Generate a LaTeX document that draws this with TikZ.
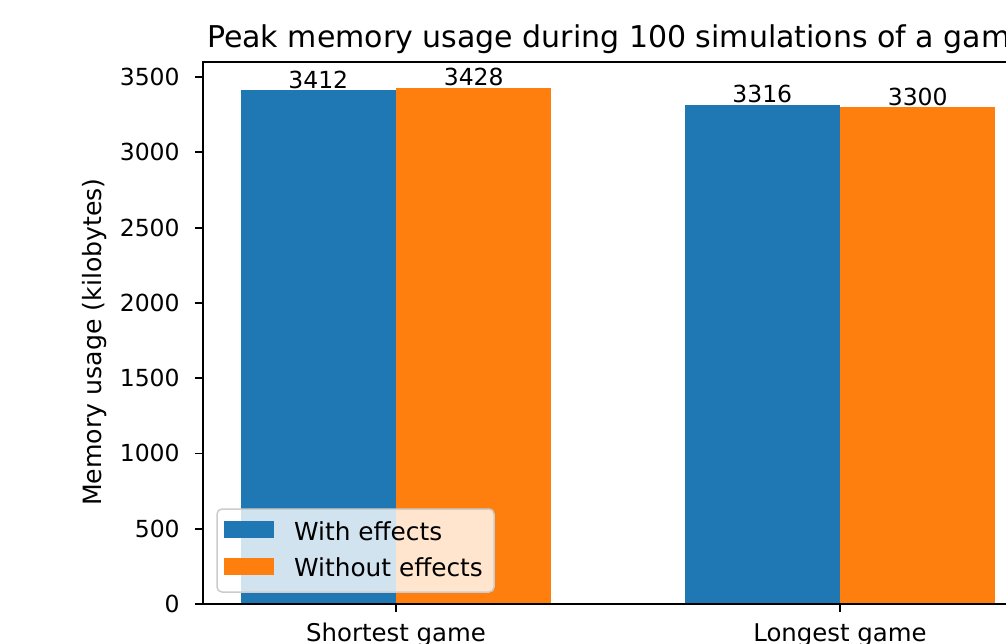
\documentclass[tikz,border=0pt]{standalone}
\usepackage{fontspec}
\setmainfont{DejaVu Sans}
\definecolor{barblue}{HTML}{1F77B4}
\definecolor{barorange}{HTML}{FF7F0E}
\definecolor{legedge}{HTML}{CCCCCC}
\tikzset{
  axisline/.style={line width=1.8pt, black, line cap=rect},
  tickline/.style={line width=1.8pt, black},
  ticklabel/.style={inner sep=0pt, font=\fontsize{23.5}{28}\selectfont},
  wordlabel/.style={inner sep=0pt, font=\fontsize{24.4}{29}\selectfont},
  leglabel/.style={inner sep=0pt, font=\fontsize{24.8}{29}\selectfont, anchor=base west},
  valuelabel/.style={inner sep=0pt, font=\fontsize{23.5}{28}\selectfont, anchor=base},
  titlelabel/.style={inner sep=0pt, font=\fontsize{30}{35}\selectfont, anchor=base},
}
\begin{document}
\begin{tikzpicture}[x=1pt,y=1pt]
\useasboundingbox (0,0) rectangle (1006,643);
\clip (0,0) rectangle (1006,643);
\fill[white] (0,0) rectangle (1006,643);

% data coordinates: x = group index, y = kilobytes
\begin{scope}[xshift=396pt, yshift=39pt, x=444pt, y=0.15056pt]
  % bars
  \fill[barblue]   (-0.35,0) rectangle (0,3412);
  \fill[barorange] (0,0)     rectangle (0.35,3428);
  \fill[barblue]   (0.65,0)  rectangle (1,3316);
  \fill[barorange] (1,0)     rectangle (1.35,3300);

  % value labels
  \node[valuelabel] (v1) at ([yshift=2pt]-0.175,3412) {3412};
  \node[valuelabel] (v2) at ([yshift=2pt]0.175,3428) {3428};
  \node[valuelabel] (v3) at ([yshift=2pt]0.825,3316) {3316};
  \node[valuelabel] (v4) at ([yshift=2pt]1.175,3300) {3300};

  % spines
  \draw[axisline] (-0.435,3600) -- (-0.435,0) -- (1.435,0);
  \draw[axisline] (-0.435,3600) -- (1.435,3600);

  % y ticks
  \foreach \v in {0,500,...,3500} {
    \draw[tickline] (-0.435,\v) -- ++(-8pt,0);
    \node[ticklabel, anchor=east] (yt\v) at ([xshift=-23pt]-0.435,\v) {\v};
  }

  % x ticks
  \draw[tickline] (0,0) -- ++(0,-8pt);
  \draw[tickline] (1,0) -- ++(0,-8pt);
  \node[wordlabel, anchor=base] (xt0) at ([yshift=-37pt]0,0) {Shortest game};
  \node[wordlabel, anchor=base] (xt1) at ([yshift=-37pt]1,0) {Longest game};
\end{scope}

% axis title and label
\node[titlelabel] (title) at (618,595) {Peak memory usage during 100 simulations of a game};
\node[wordlabel, font=\fontsize{25.2}{30}\selectfont, rotate=90] (ylabel) at (95,301) {Memory usage (kilobytes)};

% legend
\draw[legedge, line width=1.5pt, fill=white, fill opacity=0.8, rounded corners=5pt]
  (217,51) rectangle (494,134);
\fill[barblue]   (224,105) rectangle (274,122);
\fill[barorange] (224,68)  rectangle (274,85);
\node[leglabel] (leg1) at (294,103) {With effects};
\node[leglabel] (leg2) at (294,67) {Without effects};
\end{tikzpicture}
\end{document}
